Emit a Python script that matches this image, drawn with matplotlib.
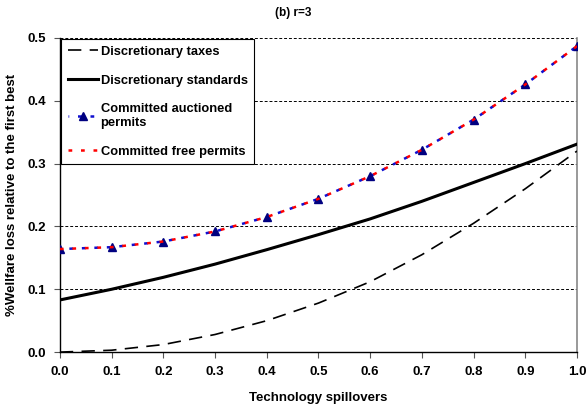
import matplotlib
matplotlib.use("Agg")
import matplotlib.pyplot as plt

plt.rcParams['font.family'] = ['Liberation Sans', 'DejaVu Sans']
plt.rcParams['font.weight'] = 'bold'

spill = [0.0, 0.1, 0.2, 0.3, 0.4, 0.5, 0.6, 0.7, 0.8, 0.9, 1.0]
taxes = [0.0, 0.003, 0.012, 0.028, 0.050, 0.078, 0.112, 0.155, 0.205, 0.260, 0.320]
standards = [0.083, 0.100, 0.119, 0.140, 0.163, 0.187, 0.212, 0.240, 0.270, 0.300, 0.331]
auctioned = [0.164, 0.167, 0.176, 0.192, 0.215, 0.244, 0.280, 0.322, 0.370, 0.426, 0.487]
free = [0.164, 0.167, 0.176, 0.192, 0.215, 0.244, 0.280, 0.322, 0.370, 0.426, 0.487]
xticks = [0.0, 0.1, 0.2, 0.3, 0.4, 0.5, 0.6, 0.7, 0.8, 0.9, 1.0]
yticks = [0.0, 0.1, 0.2, 0.3, 0.4, 0.5]

fig = plt.figure(figsize=(5.87, 4.08), dpi=100)
ax = fig.add_axes([0.102, 0.137, 0.881, 0.770])

for y in yticks[1:]:
    ax.axhline(y, color='black', lw=0.7, ls=(0, (3, 2)), zorder=1)

ax.plot(spill, taxes, color='black', lw=1.2, ls=(0, (8, 5)), label='Discretionary taxes', zorder=3)
ax.plot(spill, standards, color='black', lw=2.2, label='Discretionary standards', zorder=3)
ax.plot(spill, auctioned, color='#1010d0', lw=1.8, ls=(1.2, (1.5, 3.5)), marker='^', ms=6,
        mfc='#000080', mec='#000080', label='Committed auctioned\npermits', zorder=4)
ax.plot(spill, free, color='red', lw=1.8, ls=(0, (1.5, 3.5)), label='Committed free permits', zorder=5)

ax.set_xlim(0, 1.0)
ax.set_ylim(0, 0.5)
ax.set_xticks(xticks)
ax.set_yticks(yticks)
ax.set_xticklabels([f'{v:.1f}' for v in xticks], fontsize=9.5, fontweight='bold')
ax.set_yticklabels([f'{v:.1f}' for v in yticks], fontsize=9.5, fontweight='bold')
ax.tick_params(axis='both', direction='out', length=4, width=0.8, color='#555555', pad=6)

ax.spines['top'].set_visible(False)
ax.spines['right'].set_color('#888888')
ax.spines['right'].set_linewidth(1.2)
ax.spines['left'].set_linewidth(1.0)
ax.spines['bottom'].set_linewidth(1.0)

ax.set_xlabel('Technology spillovers', fontsize=9.5, fontweight='bold', labelpad=10)
ax.set_ylabel('%Wellfare loss relative to the first best', fontsize=9.5, fontweight='bold', labelpad=7)
fig.text(0.5, 0.968, '(b) r=3', ha='center', va='center', fontsize=8.5, fontweight='bold')

leg = ax.legend(loc='upper left', bbox_to_anchor=(0.0, 1.0), fontsize=9.3, frameon=True,
                fancybox=False, edgecolor='black', framealpha=1, handlelength=2.35,
                labelspacing=1.3, borderpad=0.5, handletextpad=0.2, borderaxespad=0.1)
leg.get_frame().set_linewidth(0.8)
for t in leg.get_texts():
    t.set_fontweight('bold')

fig.savefig('out.png', dpi=100)
